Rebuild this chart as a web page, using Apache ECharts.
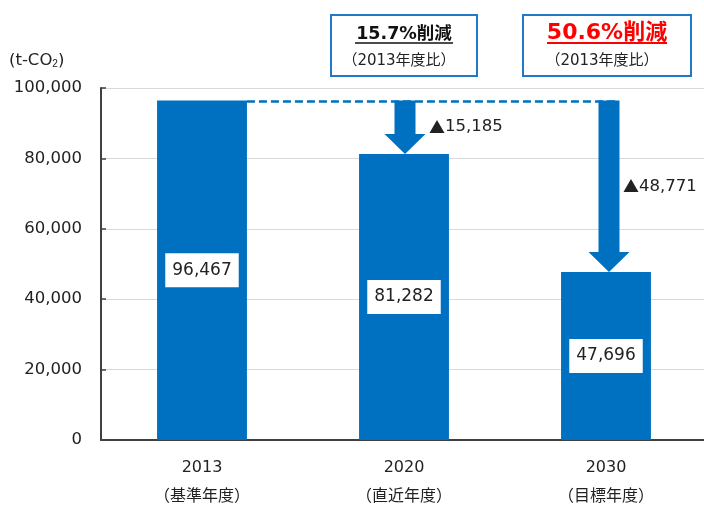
<!DOCTYPE html>
<html>
<head>
<meta charset="utf-8">
<script src="https://cdn.jsdelivr.net/npm/echarts@6/dist/echarts.min.js"></script>
<style>
  html, body { margin: 0; padding: 0; background: #fff; }
  #chart { width: 704px; height: 505px; }
</style>
</head>
<body>
<div id="chart"></div>
<script>
// 年度
var years = ['2013', '2020', '2030'];
var yearNotes = ['（基準年度）', '（直近年度）', '（目標年度）'];
// 排出量 (t-CO2)
var emissions = [96467, 81282, 47696];
// 2013年度比の削減量
var reductions = [15185, 48771];
// 削減率
var reductionRates = ['15.7%削減', '50.6%削減'];
var rateNote = '（2013年度比）';
// 縦軸
var yMin = 0, yMax = 100000, yStep = 20000;

var FONT = '"DejaVu Sans", "Noto Sans CJK JP", sans-serif';
var CJK = '"Noto Sans CJK JP", sans-serif';
var BLUE = '#0070C0';

var categories = years.map(function (y, i) { return y + '\n' + yearNotes[i]; });

// 矢印データ: [カテゴリ, 基準値, 到達値, 削減量]
var arrowData = [];
reductions.forEach(function (r, i) {
    arrowData.push([i + 1, emissions[0], emissions[i + 1], r]);
});

var myChart = echarts.init(document.getElementById('chart'));

var option = {
    animation: false,
    textStyle: { fontFamily: FONT },
    grid: {
        left: 101,
        top: 88,
        width: 606,
        height: 352,
        outerBoundsMode: 'none'
    },
    xAxis: {
        type: 'category',
        data: categories,
        axisLine: { lineStyle: { color: '#404040', width: 2 } },
        axisTick: { show: false },
        axisLabel: {
            color: '#222',
            fontSize: 16,
            lineHeight: 29,
            margin: 13,
            fontFamily: FONT
        }
    },
    yAxis: {
        type: 'value',
        min: yMin,
        max: yMax,
        interval: yStep,
        axisLine: { show: true, lineStyle: { color: '#404040', width: 2 } },
        axisTick: { show: true, inside: true, length: 5, lineStyle: { color: '#404040', width: 1.5 } },
        splitLine: { lineStyle: { color: '#d9d9d9', width: 1 } },
        axisLabel: {
            color: '#222',
            fontSize: 16.5,
            margin: 19,
            fontFamily: FONT,
            formatter: function (v) { return v.toLocaleString('en-US'); }
        }
    },
    graphic: [
        {
            type: 'text',
            left: 9,
            top: 52,
            style: {
                text: '(t-CO{s|2})',
                fill: '#222',
                font: '16.5px ' + FONT,
                rich: {
                    s: { fontSize: 10, fill: '#222', padding: [8, 0, 0, 0] }
                }
            }
        },
        // 左の枠
        {
            type: 'rect',
            shape: { x: 331, y: 15, width: 146, height: 61 },
            style: { fill: '#fff', stroke: '#2079C7', lineWidth: 2 }
        },
        {
            type: 'text',
            x: 404, y: 34,
            style: {
                text: reductionRates[0],
                fill: '#111',
                font: 'bold 17.5px ' + FONT,
                align: 'center',
                verticalAlign: 'middle'
            }
        },
        {
            type: 'line',
            shape: { x1: 355, y1: 43, x2: 453, y2: 43 },
            style: { stroke: '#111', lineWidth: 1.5 }
        },
        {
            type: 'text',
            x: 399, y: 61,
            style: {
                text: rateNote,
                fill: '#222',
                font: '15px ' + FONT,
                align: 'center',
                verticalAlign: 'middle'
            }
        },
        // 右の枠
        {
            type: 'rect',
            shape: { x: 523, y: 15, width: 168, height: 61 },
            style: { fill: '#fff', stroke: '#2079C7', lineWidth: 2 }
        },
        {
            type: 'text',
            x: 607, y: 33,
            style: {
                text: reductionRates[1],
                fill: '#FF0000',
                font: 'bold 22px ' + FONT,
                align: 'center',
                verticalAlign: 'middle'
            }
        },
        {
            type: 'line',
            shape: { x1: 547, y1: 43, x2: 667, y2: 43 },
            style: { stroke: '#FF0000', lineWidth: 2 }
        },
        {
            type: 'text',
            x: 602, y: 61,
            style: {
                text: rateNote,
                fill: '#222',
                font: '15px ' + FONT,
                align: 'center',
                verticalAlign: 'middle'
            }
        }
    ],
    series: [
        {
            name: '排出量',
            type: 'bar',
            data: emissions,
            barWidth: '44.5%',
            itemStyle: { color: BLUE },
            label: {
                show: true,
                position: 'inside',
                color: '#222',
                fontSize: 17,
                fontFamily: FONT,
                backgroundColor: '#fff',
                padding: [9, 7, 8, 7],
                formatter: function (p) { return p.value.toLocaleString('en-US'); }
            },
            z: 2
        },
        {
            // 基準年度の点線
            name: '基準線',
            type: 'custom',
            data: [[0, emissions.length - 1, emissions[0]]],
            renderItem: function (params, api) {
                var from = api.coord([api.value(0), api.value(2)]);
                var to = api.coord([api.value(1), api.value(2)]);
                var band = api.size([1, 0])[0];
                return {
                    type: 'line',
                    shape: { x1: from[0] + band * 0.2225, y1: from[1] + 1, x2: to[0] + 13, y2: to[1] + 1 },
                    style: { stroke: BLUE, lineWidth: 2.5, lineDash: [8, 4] }
                };
            },
            z: 3
        },
        {
            // 削減矢印
            name: '削減量',
            type: 'custom',
            data: arrowData,
            renderItem: function (params, api) {
                var top = api.coord([api.value(0), api.value(1)]);
                var tip = api.coord([api.value(0), api.value(2)]);
                var x = top[0] + (api.value(0) === 2 ? 3 : 1);
                var y0 = top[1];
                var yt = tip[1];
                var sw = 10.5, hw = 20.5, hh = 20;
                return {
                    type: 'group',
                    children: [
                        {
                            type: 'polygon',
                            shape: {
                                points: [
                                    [x - sw, y0], [x + sw, y0], [x + sw, yt - hh],
                                    [x + hw, yt - hh], [x, yt], [x - hw, yt - hh],
                                    [x - sw, yt - hh]
                                ]
                            },
                            style: { fill: BLUE }
                        },
                        {
                            type: 'text',
                            x: x + (api.value(0) === 2 ? 14 : 24),
                            y: (y0 + yt) / 2,
                            style: {
                                text: '{t|▲}' + api.value(3).toLocaleString('en-US'),
                                fill: '#222',
                                font: '16.5px ' + FONT,
                                align: 'left',
                                verticalAlign: 'middle',
                                rich: {
                                    t: { fontFamily: CJK, fontSize: 16, fill: '#222' }
                                }
                            }
                        }
                    ]
                };
            },
            z: 4
        }
    ]
};

myChart.setOption(option);
</script>
</body>
</html>
